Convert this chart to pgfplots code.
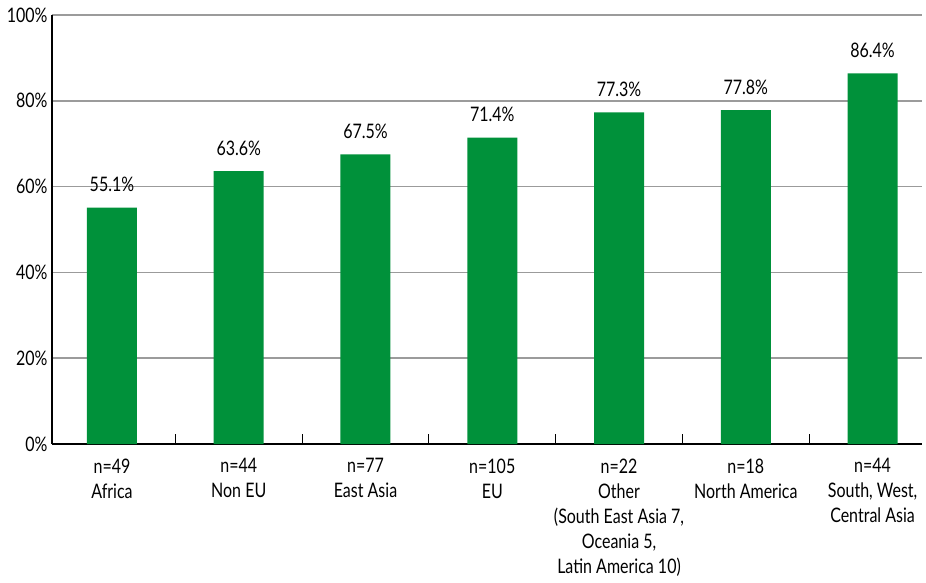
\documentclass[border=0pt]{standalone}
\usepackage{pgfplots}
\pgfplotsset{compat=1.18}
\usepackage{fontspec}
\setmainfont{Lato}[FakeStretch=0.8]
\definecolor{bargreen}{HTML}{00913A}
\definecolor{gridgray}{HTML}{9B9B9B}
\begin{document}
\begin{tikzpicture}
\begin{axis}[
  scale only axis,
  width=870pt, height=429pt,
  xmin=-0.473, xmax=6.39,
  ymin=0, ymax=100,
  axis x line*=bottom, axis y line*=left,
  axis line style={black, line width=1.6pt},
  ytick={0,20,40,60,80,100},
  yticklabels={0\%,20\%,40\%,60\%,80\%,100\%},
  ymajorgrids,
  major grid style={gridgray, line width=1.6pt},
  major y tick style={draw=none},
  xtick={0,1,2,3,4,5,6},
  xticklabels={
    {n=49\\Africa},
    {n=44\\Non EU},
    {n=77\\East Asia},
    {n=105\\EU},
    {n=22\\Other\\(South East Asia 7,\\Oceania 5,\\Latin America 10)},
    {n=18\\North America},
    {n=44\\South, West,\\Central Asia}},
  major x tick style={draw=none},
  xticklabel style={align=center, font=\fontsize{20}{25}\selectfont, yshift=-11pt},
  yticklabel style={font=\fontsize{20}{22}\selectfont, xshift=-1pt},
  extra x ticks={0.5,1.5,2.5,3.5,4.5,5.5},
  extra x tick labels={},
  extra x tick style={major tick length=10pt, tick align=inside, major x tick style={draw=black, line width=1.2pt}, grid=none},
  /pgf/number format/assume math mode=true,
  nodes near coords={\pgfmathprintnumber[fixed,precision=1,zerofill]{\pgfplotspointmeta}\%},
  every node near coord/.append style={font=\fontsize{20}{22}\selectfont, black, yshift=12pt},
  clip=false,
]
\addplot[ybar, bar width=50pt, fill=bargreen, draw=none] coordinates {
  (0,55.1) (1,63.6) (2,67.5) (3,71.4) (4,77.3) (5,77.8) (6,86.4)
};
\end{axis}
\pgfresetboundingbox
\path (current axis.south west) ++(-52pt,-139pt) rectangle ++(926pt,583pt);
\end{tikzpicture}
\end{document}
